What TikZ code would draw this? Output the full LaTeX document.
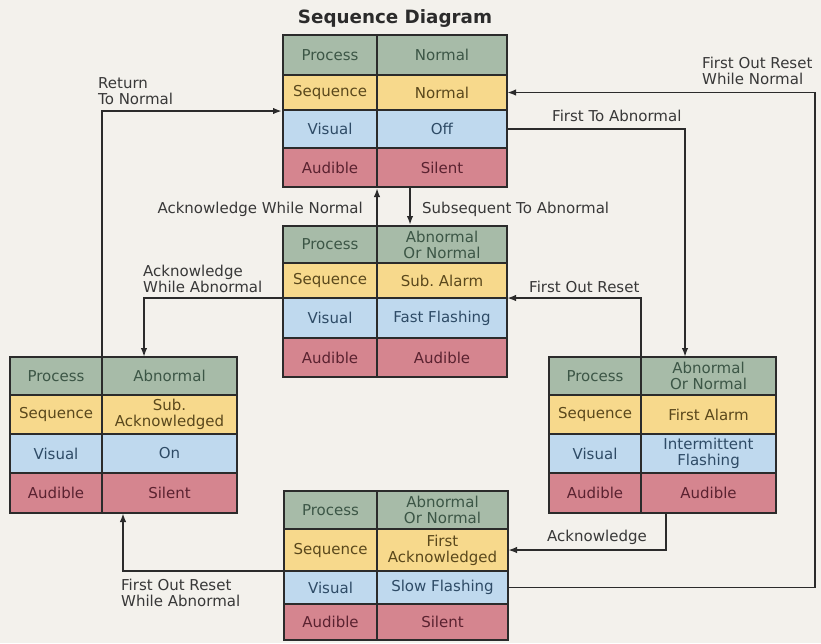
\documentclass[tikz,border=0pt]{standalone}
\usepackage{fontspec}
\setmainfont{DejaVu Sans}
\usetikzlibrary{arrows.meta,fit,calc}
\definecolor{bgc}{HTML}{F3F1EC}
\definecolor{linec}{HTML}{2B2B2B}
\definecolor{labelc}{HTML}{383838}
\definecolor{procfill}{HTML}{A7BBA8}
\definecolor{proctext}{HTML}{3C5646}
\definecolor{seqfill}{HTML}{F7D98C}
\definecolor{seqtext}{HTML}{5A481C}
\definecolor{visfill}{HTML}{BFD9EE}
\definecolor{vistext}{HTML}{2E4B66}
\definecolor{audfill}{HTML}{D5858F}
\definecolor{audtext}{HTML}{5A2230}
\tikzset{
  cell/.style={rectangle, inner sep=0pt, outer sep=0pt, anchor=north west, align=center,
    font=\fontsize{15}{16}\selectfont, draw=linec, line width=1.2pt},
  proc/.style={cell, fill=procfill, text=proctext},
  seqc/.style={cell, fill=seqfill, text=seqtext},
  visc/.style={cell, fill=visfill, text=vistext},
  audc/.style={cell, fill=audfill, text=audtext},
  boxline/.style={draw=linec, line width=2pt, inner sep=0pt},
  conn/.style={draw=linec, line width=1.9pt, -{Latex[length=9pt,width=6.5pt]}},
  lbl/.style={inner sep=0pt, font=\fontsize{15}{16}\selectfont, text=labelc, align=left},
}
\newcommand\cellpair[9]{%
  \node[#7, minimum width=#4pt, minimum height=#6pt] (#1l) at (#2,#3) {#8};
  \node[#7, minimum width=#5pt, minimum height=#6pt] (#1r) at (#1l.north east) {#9};}
\begin{document}
\frenchspacing
\begin{tikzpicture}[x=1pt,y=-1pt]
\fill[bgc] (0,0) rectangle (821,643);
\useasboundingbox (0,0) rectangle (821,643);

\node[anchor=base, inner sep=0pt, font=\fontsize{18.3}{20}\selectfont\bfseries, text=linec] (title) at (395,23) {Sequence Diagram};

% Box A (top)
\cellpair{Ap}{283}{35}{94}{130}{40}{proc}{Process}{Normal}
\cellpair{As}{283}{75}{94}{130}{35}{seqc}{Sequence}{Normal}
\cellpair{Av}{283}{110}{94}{130}{38}{visc}{Visual}{Off}
\cellpair{Aa}{283}{148}{94}{130}{39}{audc}{Audible}{Silent}
\node[boxline, fit=(Apl)(Aar)] (A) {};

% Box B (middle)
\cellpair{Bp}{283}{226}{94}{130}{37}{proc}{Process}{Abnormal\\Or Normal}
\cellpair{Bs}{283}{263}{94}{130}{35}{seqc}{Sequence}{Sub. Alarm}
\cellpair{Bv}{283}{298}{94}{130}{40}{visc}{Visual}{Fast Flashing}
\cellpair{Ba}{283}{338}{94}{130}{39}{audc}{Audible}{Audible}
\node[boxline, fit=(Bpl)(Bar)] (B) {};

% Box C (left)
\cellpair{Cp}{10}{357}{92}{135}{38}{proc}{Process}{Abnormal}
\cellpair{Cs}{10}{395}{92}{135}{39}{seqc}{Sequence}{Sub.\\Acknowledged}
\cellpair{Cv}{10}{434}{92}{135}{39}{visc}{Visual}{On}
\cellpair{Ca}{10}{473}{92}{135}{40}{audc}{Audible}{Silent}
\node[boxline, fit=(Cpl)(Car)] (C) {};

% Box D (right)
\cellpair{Dp}{549}{357}{92}{135}{38}{proc}{Process}{Abnormal\\Or Normal}
\cellpair{Ds}{549}{395}{92}{135}{39}{seqc}{Sequence}{First Alarm}
\cellpair{Dv}{549}{434}{92}{135}{39}{visc}{Visual}{Intermittent\\Flashing}
\cellpair{Da}{549}{473}{92}{135}{40}{audc}{Audible}{Audible}
\node[boxline, fit=(Dpl)(Dar)] (D) {};

% Box E (bottom)
\cellpair{Ep}{284}{491}{93}{131}{38}{proc}{Process}{Abnormal\\Or Normal}
\cellpair{Es}{284}{529}{93}{131}{42}{seqc}{Sequence}{First\\Acknowledged}
\cellpair{Ev}{284}{571}{93}{131}{33}{visc}{Visual}{Slow Flashing}
\cellpair{Ea}{284}{604}{93}{131}{36}{audc}{Audible}{Silent}
\node[boxline, fit=(Epl)(Ear)] (E) {};

% connectors
\coordinate (cAWA) at ($(Cpr.north west)+(42,0)$);
\coordinate (sub) at ($(Aar.south west)+(33,0)$);
\coordinate (fta) at ($(Dpr.north west)+(44,0)$);
\coordinate (frr) at ($(Evr.east)+(307,0)$);
\coordinate (ack) at ($(Dar.south west)+(25,0)$);
\coordinate (fra) at ($(Car.south west)+(21,0)$);

\draw[conn] (Cpr.north west) |- (A.west);
\draw[conn] (Bvl.north west) -| (cAWA);
\draw[conn] (Bpr.north west) -- (A.south -| Bpr.north west);
\draw[conn] (sub) -- (sub |- B.north);
\draw[conn] (Avr.east) -| (fta);
\draw[conn] (Evr.east) -- (frr) |- (Asr.east);
\draw[conn] (Dpr.north west) |- (Bvr.north east);
\draw[conn] (ack) |- (Esr.east);
\draw[conn] (Evl.north west) -| (fra);

% labels
\node[lbl, anchor=north west] (l1) at (98,77) {Return\\To Normal};
\node[lbl, anchor=north east] (l2) at (363,202) {Acknowledge While Normal};
\node[lbl, anchor=north west] (l3) at (422,202) {Subsequent To Abnormal};
\node[lbl, anchor=north west] (l4) at (143,265) {Acknowledge\\While Abnormal};
\node[lbl, anchor=north west] (l5) at (552,110) {First To Abnormal};
\node[lbl, anchor=north west] (l6) at (702,57) {First Out Reset\\While Normal};
\node[lbl, anchor=north west] (l7) at (529,281) {First Out Reset};
\node[lbl, anchor=north west] (l8) at (547,530) {Acknowledge};
\node[lbl, anchor=north west] (l9) at (121,579) {First Out Reset\\While Abnormal};
\end{tikzpicture}
\end{document}
